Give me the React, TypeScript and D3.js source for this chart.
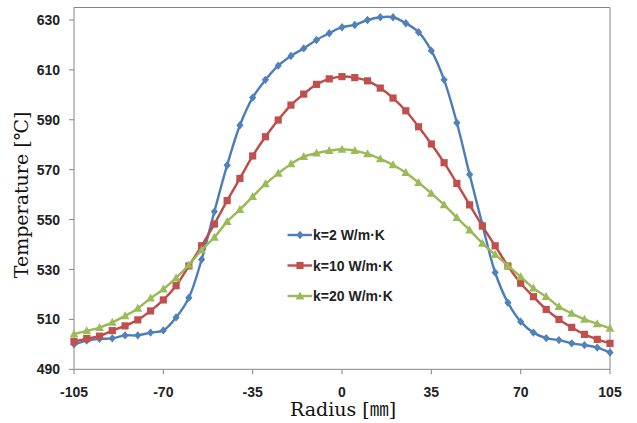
import React from "react";
import * as d3 from "d3";

const radius = [-105, -100, -95, -90, -85, -80, -75, -70, -65, -60, -55, -50, -45, -40, -35, -30, -25, -20, -15, -10, -5, 0, 5, 10, 15, 20, 25, 30, 35, 40, 45, 50, 55, 60, 65, 70, 75, 80, 85, 90, 95, 100, 105];

const k2 = [500.0, 501.5, 502.2, 502.4, 503.6, 503.6, 504.7, 505.6, 510.8, 518.7, 534.0, 553.2, 571.8, 587.8, 598.9, 606.0, 611.7, 615.6, 618.6, 622.0, 624.7, 627.1, 628.0, 630.0, 631.1, 631.1, 628.7, 625.1, 617.7, 606.0, 588.8, 568.1, 548.0, 528.8, 516.7, 509.1, 504.7, 502.5, 501.7, 500.4, 499.7, 498.7, 496.7];

const k10 = [501.1, 502.3, 503.3, 505.5, 507.4, 509.8, 513.4, 517.8, 523.5, 531.4, 539.5, 548.2, 557.6, 566.5, 575.5, 583.2, 589.9, 595.9, 600.3, 604.2, 606.4, 607.3, 606.9, 605.6, 602.7, 598.7, 593.6, 587.2, 580.3, 572.8, 564.5, 555.9, 547.4, 539.5, 531.4, 524.5, 519.1, 514.0, 510.0, 506.8, 504.0, 502.0, 500.4];

const k20 = [504.1, 505.4, 506.7, 508.8, 511.4, 514.4, 518.5, 522.1, 526.6, 531.8, 537.8, 542.9, 549.2, 554.0, 559.2, 564.3, 568.5, 572.3, 575.2, 576.6, 577.6, 578.2, 577.6, 576.3, 574.3, 571.9, 568.8, 564.8, 560.5, 555.9, 550.8, 545.8, 540.5, 536.0, 531.5, 527.1, 522.5, 519.1, 515.1, 512.4, 510.0, 508.2, 506.4];

const xTicks = [-105, -70, -35, 0, 35, 70, 105];
const yTicks = [490, 510, 530, 550, 570, 590, 610, 630];

const seriesNames = ["k=2 W/m·K", "k=10 W/m·K", "k=20 W/m·K"];

const W = 637;
const H = 423;
const left = 74;
const right = 610;
const top = 7.5;
const bottom = 369.3;

export default function App() {
  const x = d3.scaleLinear().domain([-105, 105]).range([left, right]);
  const y = d3.scaleLinear().domain([490, 635]).range([bottom, top]);

  const series = [
    { name: seriesNames[0], values: k2, line: "#4A7EBB", fill: "#4F81BD", shape: "diamond" },
    { name: seriesNames[1], values: k10, line: "#BE4B48", fill: "#C0504D", shape: "square" },
    { name: seriesNames[2], values: k20, line: "#98B954", fill: "#9BBB59", shape: "triangle" },
  ];

  const lineGen = d3
    .line<number>()
    .x((_, i) => x(radius[i]))
    .y((d) => y(d))
    .curve(d3.curveCatmullRom.alpha(0.5));

  const marker = (shape: string, cx: number, cy: number, fill: string, key: any) => {
    if (shape === "diamond") {
      const p = `M${cx},${cy - 4.2}L${cx + 3.6},${cy}L${cx},${cy + 4.2}L${cx - 3.6},${cy}Z`;
      return <path key={key} d={p} fill={fill} />;
    }
    if (shape === "square") {
      return <rect key={key} x={cx - 3.6} y={cy - 3.6} width={7.2} height={7.2} fill={fill} />;
    }
    const p = `M${cx},${cy - 4.6}L${cx + 4.4},${cy + 3.4}L${cx - 4.4},${cy + 3.4}Z`;
    return <path key={key} d={p} fill={fill} />;
  };

  const legendY = [235, 265.5, 296];
  const tickFont = "'Liberation Sans', Arial, sans-serif";
  const serif = "'DejaVu Serif', 'Liberation Serif', 'Noto Sans CJK JP', serif";

  return (
    <svg width={W} height={H} style={{ position: "absolute", left: 0, top: 0, background: "#fff" }}>
      {/* plot border */}
      <line x1={left} x2={right} y1={top} y2={top} stroke="#868686" strokeWidth={1} />
      <line x1={right} x2={right} y1={top} y2={bottom} stroke="#868686" strokeWidth={1} />
      {/* axes */}
      <line x1={left} x2={left} y1={top} y2={bottom} stroke="#868686" strokeWidth={1} />
      <line x1={left} x2={right} y1={bottom} y2={bottom} stroke="#868686" strokeWidth={1} />
      {yTicks.map((t) => (
        <g key={"y" + t}>
          <line x1={left - 5} x2={left} y1={y(t)} y2={y(t)} stroke="#868686" />
          <text x={60} y={y(t)} dy="0.36em" textAnchor="end" fontFamily={tickFont} fontWeight="bold" fontSize={14} fill="#222">
            {t}
          </text>
        </g>
      ))}
      {xTicks.map((t) => (
        <g key={"x" + t}>
          <line x1={x(t)} x2={x(t)} y1={bottom} y2={bottom + 5} stroke="#868686" />
          <text x={x(t)} y={396.5} textAnchor="middle" fontFamily={tickFont} fontWeight="bold" fontSize={14} fill="#222">
            {t}
          </text>
        </g>
      ))}
      {/* series */}
      {series.map((s) => (
        <g key={s.name}>
          <path d={lineGen(s.values) || ""} fill="none" stroke={s.line} strokeWidth={2.4} />
          {s.values.map((v, i) => marker(s.shape, x(radius[i]), y(v), s.fill, i))}
        </g>
      ))}
      {/* legend */}
      {series.map((s, i) => (
        <g key={"lg" + i}>
          <line x1={287.5} x2={312} y1={legendY[i]} y2={legendY[i]} stroke={s.line} strokeWidth={2.4} />
          {marker(s.shape, 300, legendY[i], s.fill, "m")}
          <text x={313} y={legendY[i]} dy="0.36em" fontFamily={tickFont} fontWeight="bold" fontSize={14} fill="#222">
            {s.name}
          </text>
        </g>
      ))}
      {/* axis titles */}
      <text x={343} y={416} textAnchor="middle" fontFamily={serif} fontSize={19} fill="#111">
        Radius [㎜]
      </text>
      <text
        x={28}
        y={195}
        transform="rotate(-90, 28, 195)"
        textAnchor="middle"
        fontFamily={serif}
        fontSize={19}
        fill="#111"
      >
        Temperature [℃]
      </text>
    </svg>
  );
}
